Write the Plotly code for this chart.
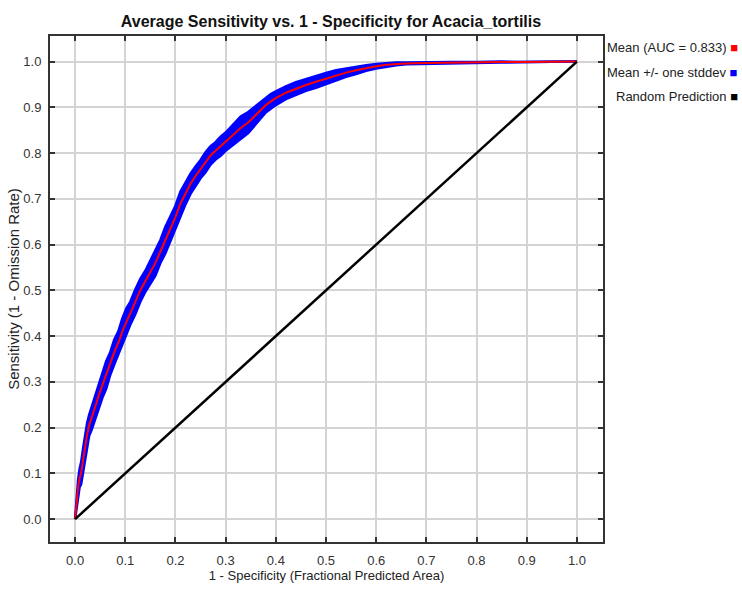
import plotly.graph_objects as go

title_text = "Average Sensitivity vs. 1 - Specificity for Acacia_tortilis"
x_title = "1 - Specificity (Fractional Predicted Area)"
y_title = "Sensitivity (1 - Omission Rate)"
legend_labels = ["Mean (AUC = 0.833)", "Mean +/- one stddev", "Random Prediction"]
legend_colors = ["#ff0000", "#0000ff", "#000000"]
tick_vals = [0.0, 0.1, 0.2, 0.3, 0.4, 0.5, 0.6, 0.7, 0.8, 0.9, 1.0]
tick_text = ["0.0", "0.1", "0.2", "0.3", "0.4", "0.5", "0.6", "0.7", "0.8", "0.9", "1.0"]

fpr = [0, 0.003, 0.006, 0.009, 0.012, 0.016, 0.020, 0.024, 0.028, 0.033, 0.040, 0.047,
       0.055, 0.062, 0.070, 0.078, 0.086, 0.094, 0.102, 0.110, 0.120, 0.130, 0.140, 0.150,
       0.160, 0.170, 0.180, 0.190, 0.200, 0.210, 0.220, 0.230, 0.240, 0.250, 0.260, 0.270,
       0.280, 0.290, 0.300, 0.315, 0.330, 0.345, 0.360, 0.370, 0.380, 0.390, 0.400, 0.420,
       0.440, 0.460, 0.480, 0.500, 0.520, 0.540, 0.560, 0.580, 0.600, 0.620, 0.640, 0.660,
       0.700, 0.750, 0.800, 0.850, 0.900, 0.950, 1.0]
sens_mean = [0, 0.04, 0.07, 0.09, 0.10, 0.13, 0.16, 0.185, 0.205, 0.22, 0.245, 0.27,
             0.295, 0.315, 0.34, 0.365, 0.385, 0.41, 0.43, 0.45, 0.475, 0.50, 0.52, 0.54,
             0.56, 0.585, 0.61, 0.635, 0.66, 0.69, 0.712, 0.733, 0.75, 0.765, 0.78, 0.795,
             0.805, 0.815, 0.825, 0.84, 0.855, 0.867, 0.883, 0.895, 0.905, 0.913, 0.92, 0.932,
             0.941, 0.949, 0.956, 0.963, 0.97, 0.976, 0.981, 0.986, 0.99, 0.993, 0.995, 0.996,
             0.997, 0.998, 0.998, 0.999, 0.999, 0.9995, 1.0]
sens_sd = [0, 0.012, 0.016, 0.02, 0.024, 0.025, 0.027, 0.025, 0.023, 0.025, 0.027, 0.025,
           0.028, 0.03, 0.025, 0.027, 0.025, 0.028, 0.03, 0.025, 0.027, 0.025, 0.023, 0.025,
           0.028, 0.025, 0.029, 0.027, 0.025, 0.026, 0.024, 0.022, 0.021, 0.02, 0.022, 0.02,
           0.019, 0.021, 0.02, 0.022, 0.025, 0.023, 0.02, 0.018, 0.016, 0.016, 0.015, 0.014,
           0.014, 0.013, 0.013, 0.012, 0.011, 0.009, 0.008, 0.006, 0.005, 0.004, 0.003, 0.002,
           0.002, 0.001, 0.001, 0.001, 0.0, 0.0, 0.0]
random_x = [0.0, 1.0]
random_y = [0.0, 1.0]

upper = [min(1.0, m + s) for m, s in zip(sens_mean, sens_sd)]
lower = [max(0.0, m - s) for m, s in zip(sens_mean, sens_sd)]

font_fam = "Liberation Sans, Arial, sans-serif"

fig = go.Figure()
fig.add_trace(go.Scatter(x=fpr, y=lower, mode="lines",
                         line=dict(color="#0000ff", width=2.5), showlegend=False))
fig.add_trace(go.Scatter(x=fpr, y=upper, mode="lines", fill="tonexty",
                         fillcolor="#0000ff",
                         line=dict(color="#0000ff", width=2.5), showlegend=False))
fig.add_trace(go.Scatter(x=fpr, y=sens_mean, mode="lines",
                         line=dict(color="#ff0000", width=2), showlegend=False))
fig.add_trace(go.Scatter(x=random_x, y=random_y, mode="lines",
                         line=dict(color="#000000", width=2.5), showlegend=False))

axis_common = dict(
    tickvals=tick_vals, ticktext=tick_text,
    showgrid=True, gridcolor="#d4d4d4", gridwidth=1.5,
    zeroline=False, showline=True, linecolor="#333333", linewidth=2,
    mirror="ticks", ticks="inside", ticklen=5, tickwidth=1.5, tickcolor="#333333",
    tickfont=dict(family=font_fam, size=13, color="#333333"),
)
fig.update_xaxes(range=[-0.05, 1.052], ticklabelstandoff=5, automargin=False,
                 title=dict(text=x_title, font=dict(family=font_fam, size=13, color="#222222"),
                            standoff=4),
                 **axis_common)
fig.update_yaxes(range=[-0.05, 1.056], ticklabelstandoff=4, automargin=False,
                 title=dict(text=y_title, font=dict(family=font_fam, size=15, color="#222222"),
                            standoff=0),
                 **axis_common)

annotations = []
for i, (lab, col) in enumerate(zip(legend_labels, legend_colors)):
    annotations.append(dict(
        xref="paper", yref="paper", x=1.248, y=(542 - (48 + 24.5 * i)) / 506,
        xanchor="right", yanchor="middle", showarrow=False,
        text=f'{lab} <span style="color:{col}">■</span>',
        font=dict(family=font_fam, size=13, color="#222222"),
    ))

fig.update_layout(
    width=742, height=589,
    margin=dict(l=50, r=139, t=36, b=47),
    paper_bgcolor="white", plot_bgcolor="white",
    title=dict(text=f"<b>{title_text}</b>", x=(331) / 742, xanchor="center",
               y=1 - 21 / 589, yanchor="middle",
               font=dict(family=font_fam, size=16, color="#111111")),
    annotations=annotations,
    showlegend=False,
)

fig.write_html("out.html")
